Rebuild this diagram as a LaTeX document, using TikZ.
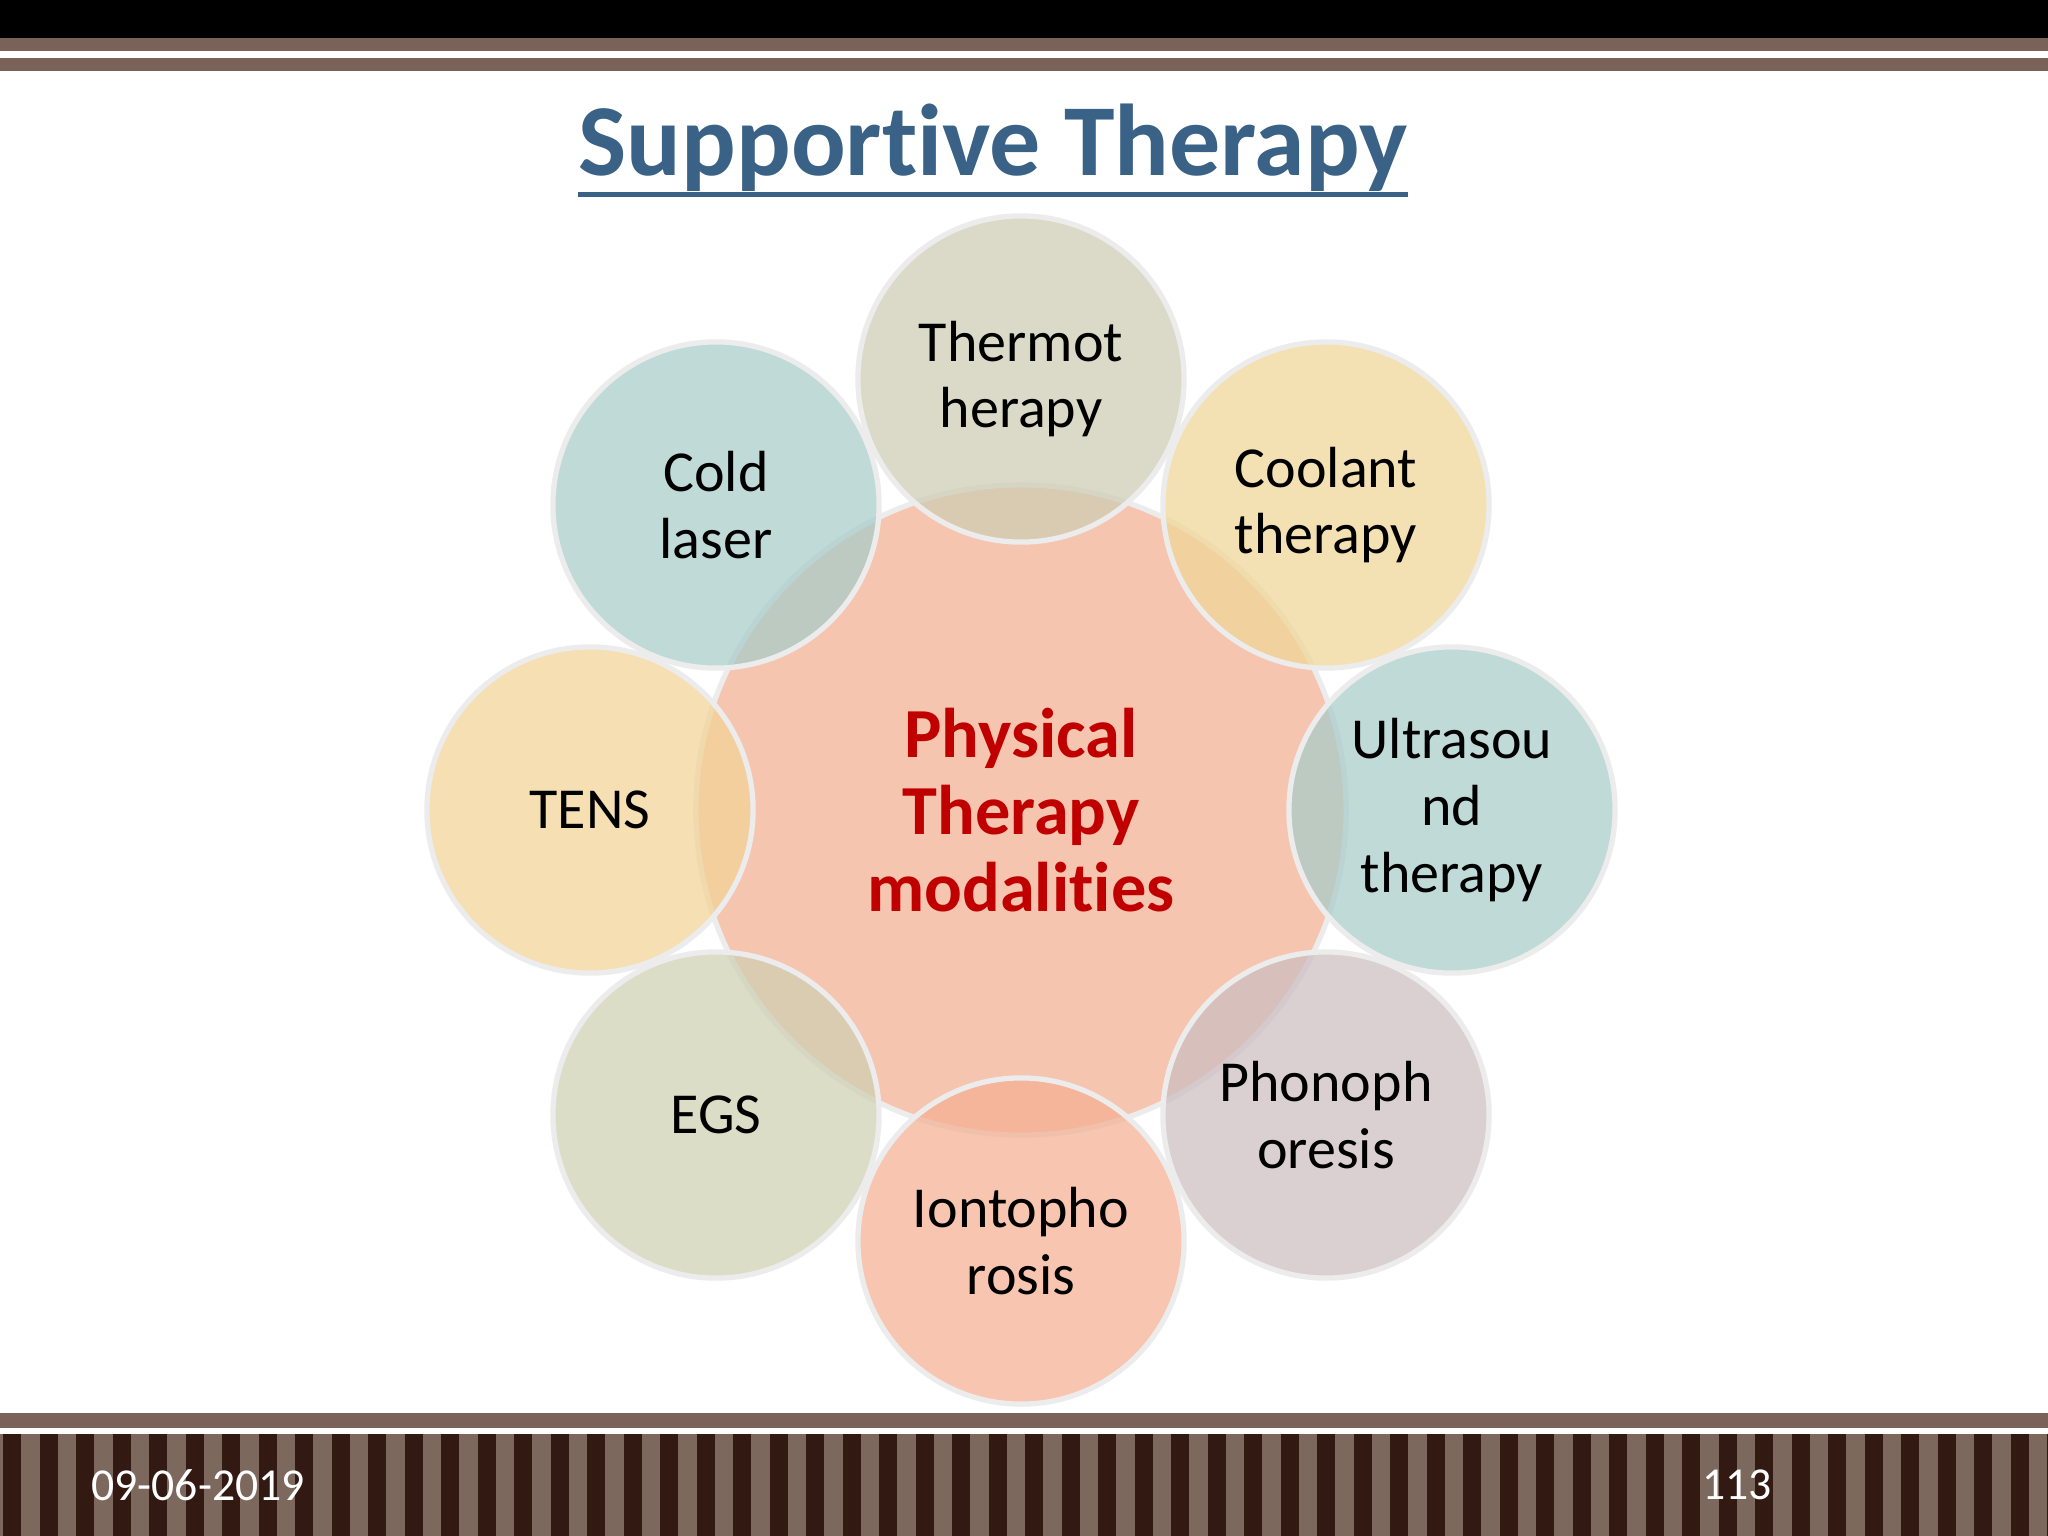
\documentclass[tikz,border=0pt]{standalone}
\usepackage{fontspec}
\setmainfont[Ligatures=NoCommon]{Carlito}
\begin{document}
\begin{tikzpicture}[x=0.01cm,y=-0.01cm,
  sat/.style={circle,minimum size=3.26cm,inner sep=0pt,fill opacity=0.72,text opacity=1,draw=white!85!gray,line width=1.5pt,align=center,font=\fontsize{16.5}{19}\selectfont,text=black},
  ctr/.style={circle,minimum size=6.5cm,inner sep=0pt,fill={rgb,255:red,244;green,178;blue,150},fill opacity=0.75,text opacity=1,draw=white!85!gray,line width=1.5pt,align=center,font=\bfseries\fontsize{20}{22}\selectfont,text={rgb,255:red,192;green,0;blue,0}}]
\useasboundingbox (0,0) rectangle (2048,1536);
\fill[white] (0,0) rectangle (2048,1536);
\definecolor{brn}{RGB}{122,98,88}
\definecolor{dbrn}{RGB}{50,26,18}
\definecolor{lbrn}{RGB}{125,104,94}
\definecolor{ttl}{RGB}{58,97,134}
\fill[black] (0,0) rectangle (2048,38);
\fill[brn] (0,38) rectangle (2048,51);
\fill[brn] (0,58) rectangle (2048,71);
\fill[brn] (0,1413) rectangle (2048,1428);
\fill[lbrn] (0,1434) rectangle (2048,1536);
\foreach \i in {0,...,56} \fill[dbrn] (3+36.5*\i,1434) rectangle (21+36.5*\i,1536);
\node[font=\fontsize{29}{32}\selectfont\bfseries,text=ttl,inner sep=0pt] (title) at (993,148) {Supportive Therapy};
\draw[ttl,line width=0.045cm] ([yshift=-0.02cm]title.south west) -- ([yshift=-0.02cm]title.south east);
\node[ctr] (c) at (1021,810) {};
\node[sat,fill={rgb,255:red,206;green,204;blue,180}] (s1) at (1021,379) {Thermot\\herapy};
\node[sat,fill={rgb,255:red,240;green,214;blue,150}] (s2) at (1326,505) {Coolant\\therapy};
\node[sat,fill={rgb,255:red,168;green,204;blue,202}] (s3) at (1452,810) {Ultrasou\\nd\\therapy};
\node[sat,fill={rgb,255:red,204;green,190;blue,194}] (s4) at (1326,1115) {Phonoph\\oresis};
\node[sat,fill={rgb,255:red,244;green,176;blue,146}] (s5) at (1021,1241) {Iontopho\\rosis};
\node[sat,fill={rgb,255:red,206;green,208;blue,178}] (s6) at (716,1115) {EGS};
\node[sat,fill={rgb,255:red,242;green,212;blue,150}] (s7) at (590,810) {TENS};
\node[sat,fill={rgb,255:red,168;green,204;blue,202}] (s8) at (716,505) {Cold\\laser};
\node[ctr,fill=none,draw=none] (ct) at (1021,810) {Physical\\Therapy\\modalities};
\node[text=white,font=\fontsize{13}{15}\selectfont] (d) at (198,1485) {09-06-2019};
\node[text=white,font=\fontsize{13}{15}\selectfont] (p) at (1737,1485) {113};
\end{tikzpicture}
\end{document}
